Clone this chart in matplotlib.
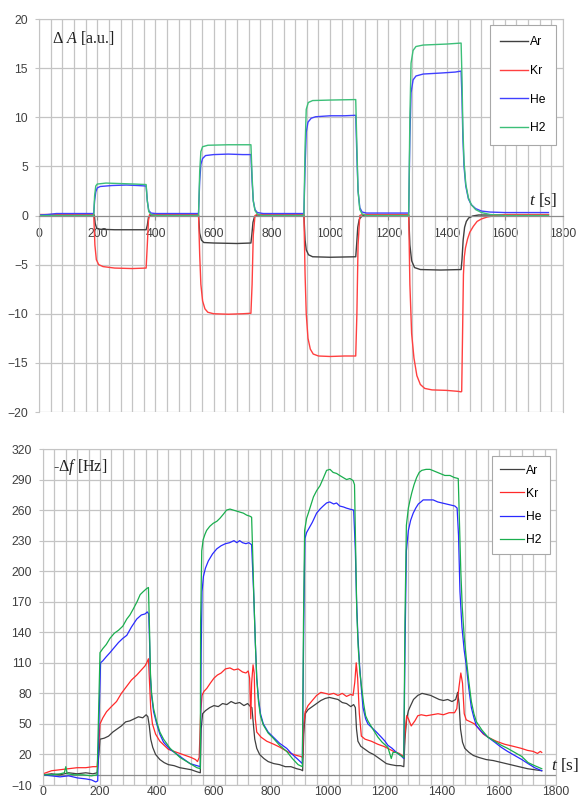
import matplotlib
matplotlib.use('Agg')
import matplotlib.pyplot as plt
from matplotlib.ticker import MultipleLocator

plt.rcParams['font.family'] = ['Liberation Sans', 'DejaVu Sans']
plt.rcParams['mathtext.fontset'] = 'custom'
plt.rcParams['mathtext.rm'] = 'Liberation Serif'
plt.rcParams['mathtext.it'] = 'Liberation Serif:italic'

# ---------------- top chart: delta A [a.u.] ----------------
ar_top_t = [0, 190, 193, 198, 210, 260, 320, 368, 372, 376, 382, 548, 552, 558, 566, 600, 680, 728, 731, 735, 740, 748,
            910, 914, 918, 926, 940, 1000, 1088, 1091, 1095, 1100, 1108, 1118, 1270, 1274, 1280, 1290, 1310, 1380, 1450,
            1453, 1457, 1462, 1468, 1476, 1490, 1510, 1750]
ar_top_v = [0.05, 0.05, -0.8, -1.3, -1.4, -1.45, -1.45, -1.45, -1.0, -0.2, 0.05, 0.05, -1.8, -2.5, -2.75, -2.8, -2.85, -2.8,
            -2.0, -0.7, -0.15, 0.05, 0.05, -2.5, -3.5, -4.0, -4.2, -4.25, -4.2, -3.0, -1.2, -0.4, -0.1, 0.05, 0.05, -3.0,
            -4.6, -5.3, -5.5, -5.55, -5.5, -4.5, -2.5, -1.2, -0.6, -0.25, -0.05, 0.05, 0.05]

kr_top_t = [0, 100, 188, 192, 197, 205, 220, 260, 320, 368, 372, 376, 380, 450, 548, 552, 556, 562, 570, 580, 600, 650,
            700, 728, 732, 736, 742, 750, 910, 914, 918, 924, 932, 942, 960, 1000, 1050, 1088, 1092, 1096, 1102, 1110,
            1270, 1274, 1280, 1288, 1298, 1310, 1325, 1350, 1400, 1440, 1450, 1452, 1455, 1458, 1461, 1465, 1472, 1480,
            1492, 1505, 1520, 1540, 1570, 1600, 1750]
kr_top_v = [0.1, 0.1, 0.1, -3.0, -4.5, -5.0, -5.2, -5.35, -5.4, -5.35, -3.0, -0.5, 0.1, 0.1, 0.1, -4.0, -7.0, -8.7, -9.5,
            -9.85, -10.0, -10.05, -10.0, -9.95, -7.0, -2.0, 0.0, 0.1, 0.1, -6.0, -10.0, -12.5, -13.6, -14.1, -14.3,
            -14.35, -14.3, -14.3, -10.0, -3.0, 0.0, 0.1, 0.1, -7.0, -12.0, -14.5, -16.3, -17.2, -17.6, -17.75, -17.8,
            -17.9, -17.95, -17.9, -12.0, -6.0, -4.2, -3.3, -2.4, -1.7, -1.1, -0.6, -0.35, -0.15, 0.0, 0.1, 0.1]

he_top_t = [0, 30, 60, 150, 188, 191, 195, 200, 210, 250, 300, 340, 368, 372, 377, 385, 400, 548, 552, 556, 562, 572, 600,
            650, 700, 728, 732, 736, 742, 750, 770, 910, 914, 918, 924, 935, 950, 1000, 1050, 1088, 1092, 1096, 1102,
            1110, 1125, 1270, 1274, 1278, 1285, 1295, 1320, 1380, 1430, 1450, 1453, 1456, 1460, 1466, 1475, 1485, 1500,
            1520, 1550, 1600, 1750]
he_top_v = [0.05, 0.1, 0.2, 0.2, 0.2, 1.5, 2.4, 2.8, 2.95, 3.05, 3.1, 3.05, 3.0, 1.5, 0.5, 0.25, 0.2, 0.2, 3.5, 5.2, 5.8,
            6.1, 6.2, 6.25, 6.2, 6.2, 3.5, 1.5, 0.6, 0.3, 0.2, 0.2, 5.0, 8.5, 9.5, 9.9, 10.05, 10.15, 10.15, 10.2, 6.0,
            2.5, 0.8, 0.35, 0.25, 0.25, 8.0, 12.5, 13.8, 14.2, 14.4, 14.5, 14.6, 14.7, 12.0, 8.0, 5.0, 3.0, 1.7, 1.1,
            0.7, 0.45, 0.35, 0.3, 0.3]

h2_top_t = [0, 188, 191, 195, 200, 230, 280, 330, 368, 372, 377, 385, 400, 548, 552, 556, 562, 580, 650, 728, 732, 736,
            742, 750, 765, 910, 914, 918, 925, 940, 1000, 1088, 1092, 1096, 1102, 1110, 1125, 1270, 1274, 1278, 1285,
            1295, 1320, 1400, 1450, 1453, 1456, 1460, 1466, 1475, 1485, 1500, 1520, 1550, 1600, 1750]
h2_top_v = [0.0, 0.0, 2.0, 3.0, 3.2, 3.3, 3.25, 3.2, 3.15, 1.5, 0.4, 0.1, 0.0, 0.0, 4.5, 6.5, 7.0, 7.15, 7.2, 7.2, 4.0,
            1.5, 0.5, 0.15, 0.0, 0.0, 7.0, 10.8, 11.5, 11.7, 11.75, 11.8, 7.0, 2.5, 0.6, 0.15, 0.0, 0.0, 10.0, 15.5,
            16.8, 17.2, 17.35, 17.45, 17.55, 14.0, 9.0, 5.5, 3.2, 1.8, 1.1, 0.6, 0.3, 0.1, 0.0, 0.0]

# ---------------- bottom chart: -delta f [Hz] ----------------
ar_bot_t = [0, 30, 60, 90, 120, 150, 175, 190, 196, 200, 215, 230, 245, 260, 275, 290, 305, 320, 335, 350, 362, 368,
            373, 378, 385, 395, 410, 425, 440, 460, 480, 500, 520, 540, 552,
            555, 560, 570, 585, 600, 615, 630, 645, 660, 675, 690, 705, 718, 728, 733, 738, 743, 750, 760, 775, 790,
            810, 830, 850, 870, 890, 905, 911,
            915, 920, 930, 945, 960, 975, 990, 1005, 1020, 1035, 1050, 1065, 1080, 1090, 1096, 1100, 1105, 1115, 1130,
            1145, 1160, 1175, 1190, 1205, 1220, 1240, 1255, 1266,
            1270, 1276, 1282, 1290, 1300, 1315, 1330, 1345, 1360, 1375, 1390, 1405, 1420, 1435, 1448, 1455, 1460, 1465,
            1472, 1480, 1495, 1510, 1530, 1555, 1580, 1610, 1640, 1670, 1700, 1725, 1750]
ar_bot_v = [0, 1, 0, 2, 1, 2, 1, 2, 20, 35, 36, 38, 42, 45, 48, 52, 53, 55, 57, 56, 59, 57,
            48, 35, 27, 20, 15, 12, 10, 9, 7, 6, 5, 3, 2,
            45, 60, 63, 66, 68, 67, 70, 69, 72, 70, 71, 68, 70, 67, 66, 50, 35, 26, 20, 16, 13,
            11, 10, 8, 8, 6, 5, 4,
            40, 60, 64, 67, 70, 73, 75, 76, 75, 74, 71, 70, 67, 69, 66, 45, 33, 28, 25,
            22, 20, 17, 14, 11, 10, 9, 9, 8,
            35, 55, 63, 68, 74, 78, 80, 79, 78, 76, 74, 73, 74, 72, 74, 81, 70, 45,
            32, 26, 22, 19, 17, 15, 14, 12, 10, 8, 6, 5, 4]

kr_bot_t = [0, 30, 60, 90, 120, 150, 175, 190, 196, 200, 210, 223, 240, 258, 275, 294, 310, 329, 345, 358, 364, 370,
            374, 378, 384, 395, 410, 425, 440, 460, 480, 500, 520, 535, 542, 548,
            553, 558, 565, 575, 587, 600, 612, 625, 640, 656, 670, 685, 700, 712, 720, 725, 729, 732, 737, 741, 745,
            750, 765, 785, 810, 832, 850, 870, 890, 905, 911,
            915, 920, 930, 945, 960, 975, 990, 1005, 1020, 1035, 1050, 1065, 1080, 1088, 1094, 1099, 1104, 1110, 1117,
            1130, 1152, 1175, 1195, 1210, 1230, 1250, 1260, 1266,
            1270, 1276, 1282, 1292, 1305, 1315, 1327, 1345, 1365, 1386, 1405, 1425, 1444, 1452, 1459, 1466, 1472, 1478,
            1485, 1500, 1514, 1530, 1545, 1561, 1590, 1620, 1650, 1678, 1700, 1720, 1735, 1745, 1750]
kr_bot_v = [1, 4, 5, 6, 7, 7, 8, 8, 30, 50, 56, 62, 67, 72, 80, 87, 93, 98, 103, 107, 110, 114,
            90, 65, 50, 40, 33, 29, 25, 23, 21, 19, 17, 15, 13, 17,
            60, 78, 82, 85, 90, 95, 98, 100, 104, 105, 103, 104, 101, 100, 102, 95, 55, 90, 108, 100, 55,
            42, 37, 33, 30, 27, 24, 21, 19, 18, 17,
            50, 62, 68, 73, 78, 81, 80, 79, 80, 78, 80, 77, 79, 78, 91, 110, 95, 60, 38,
            35, 33, 30, 28, 26, 23, 21, 19, 18,
            40, 58, 55, 48, 53, 58, 59, 58, 59, 60, 59, 61, 61, 65, 85, 100, 90, 60,
            54, 52, 50, 45, 40, 37, 33, 30, 28, 26, 24, 23, 21, 23, 22]

he_bot_t = [0, 30, 60, 90, 120, 150, 170, 185, 192, 197, 202, 210, 222, 235, 250, 265, 280, 294, 310, 329, 345, 358,
            366, 371, 374, 377, 381, 388, 399, 410, 423, 446, 481, 516, 540, 552,
            555, 558, 563, 570, 580, 595, 610, 625, 640, 655, 670, 680, 690, 700, 712, 722, 732, 736, 740, 745, 750,
            756, 763, 773, 790, 808, 830, 855, 875, 895, 910,
            915, 919, 925, 935, 945, 960, 972, 983, 995, 1006, 1020, 1030, 1041, 1055, 1064, 1076, 1090, 1096, 1100,
            1105, 1111, 1117, 1123, 1132, 1140, 1155, 1170, 1187, 1200, 1210, 1225, 1240, 1255, 1266,
            1270, 1275, 1282, 1290, 1299, 1308, 1317, 1326, 1334, 1350, 1369, 1385, 1400, 1416, 1430, 1445, 1453, 1458,
            1463, 1470, 1478, 1485, 1494, 1503, 1512, 1521, 1540, 1561, 1585, 1608, 1630, 1655, 1680, 1702, 1725, 1750]
he_bot_v = [0, -1, -2, -1, -3, -4, -5, -7, -6, 60, 110, 112, 116, 120, 125, 130, 134, 137, 145, 153, 157, 158,
            160, 158, 130, 95, 78, 62, 50, 40, 32, 25, 18, 11, 9, 8,
            120, 180, 195, 203, 210, 217, 222, 225, 227, 228, 230, 228, 230, 228, 227, 228, 226, 200, 173, 130, 95,
            75, 60, 50, 42, 37, 31, 26, 20, 15, 11,
            150, 232, 238, 243, 248, 257, 261, 264, 267, 268, 266, 267, 264, 263, 262, 261, 260, 220, 173,
            135, 107, 85, 66, 55, 50, 46, 42, 37, 33, 29, 26, 22, 19, 16,
            120, 220, 240, 250, 257, 262, 266, 268, 270, 270, 270, 268, 267, 266, 265, 264, 262, 235,
            180, 145, 122, 108, 85, 66, 56, 48, 42, 37, 32, 27, 23, 19, 15, 11, 7, 4]

h2_bot_t = [0, 30, 60, 75, 80, 85, 110, 140, 170, 190, 195, 200, 210, 222, 235, 250, 265, 280, 294, 305, 317, 330, 341,
            352, 364, 370, 374, 377, 381, 388, 399, 410, 423, 446, 481, 516, 540, 552,
            553, 557, 562, 568, 574, 585, 597, 610, 621, 633, 644, 656, 668, 680, 692, 703, 715, 726, 732, 736, 740,
            745, 750, 756, 763, 773, 790, 808, 830, 855, 875, 895, 910,
            914, 918, 925, 931, 940, 949, 960, 972, 983, 995, 1007, 1018, 1030, 1041, 1053, 1065, 1077, 1088, 1093,
            1097, 1101, 1106, 1112, 1117, 1125, 1132, 1140, 1155, 1175, 1190, 1210, 1222, 1228, 1240, 1255, 1266,
            1270, 1275, 1282, 1288, 1294, 1302, 1311, 1320, 1329, 1344, 1358, 1375, 1393, 1410, 1428, 1443, 1457,
            1461, 1466, 1471, 1478, 1485, 1494, 1503, 1512, 1521, 1540, 1561, 1585, 1608, 1630, 1655, 1680, 1702,
            1725, 1750]
h2_bot_v = [0, 0, 1, 2, 8, 1, 0, 0, -1, 0, 60, 120, 124, 128, 134, 139, 142, 146, 153, 157, 163, 170, 177,
            180, 183, 184, 140, 100, 80, 65, 52, 42, 35, 26, 17, 11, 7, 6,
            150, 220, 231, 236, 240, 244, 247, 249, 252, 256, 260, 261, 260, 259, 258, 257, 255, 254, 253, 215, 173,
            130, 95, 72, 58, 49, 41, 36, 29, 23, 16, 10, 8,
            150, 240, 252, 257, 265, 273, 279, 284, 291, 299, 300, 297, 296, 294, 292, 290, 291, 289, 285,
            220, 160, 125, 100, 88, 70, 58, 53, 46, 37, 32, 27, 16, 22, 22, 19, 17,
            150, 245, 262, 270, 277, 285, 292, 297, 299, 300, 300, 298, 296, 294, 294, 292, 291,
            250, 200, 165, 135, 115, 92, 72, 60, 52, 44, 37, 33, 29, 26, 22, 18, 12,
            9, 6]

names = ['Ar', 'Kr', 'He', 'H2']
top_colors = ['#404040', '#ff4040', '#4040ff', '#3cbf78']
bot_colors = ['#404040', '#ff2a2a', '#2a2aff', '#1aae4e']

grid_c = '#c4c4c4'
axis_c = '#8c8c8c'
tick_c = '#404040'

fig = plt.figure(figsize=(5.78, 7.97), dpi=100)

# ---- top axes ----
ax1 = fig.add_axes([39/578, 1-412/797, 524/578, 393/797])
top_series = [(ar_top_t, ar_top_v), (kr_top_t, kr_top_v), (he_top_t, he_top_v), (h2_top_t, h2_top_v)]
for (t, v), name, c in zip(top_series, names, top_colors):
    ax1.plot(t, v, color=c, lw=1.0, label=name)
ax1.set_xlim(0, 1800)
ax1.set_ylim(-20, 20)
ax1.set_xticks(range(0, 1801, 200))
ax1.set_yticks(range(-20, 21, 5))
ax1.xaxis.set_minor_locator(MultipleLocator(40))
ax1.grid(True, which='both', axis='x', color=grid_c, lw=0.9)
ax1.grid(True, which='major', axis='y', color=grid_c, lw=0.9)
ax1.set_axisbelow(True)
ax1.spines['bottom'].set_position(('data', 0))
ax1.spines['bottom'].set_color(axis_c)
for s in ['left', 'right', 'top']:
    ax1.spines[s].set_color(grid_c)
ax1.tick_params(which='major', labelsize=8.7, colors=tick_c, length=3, width=0.8)
ax1.tick_params(axis='x', which='major', pad=6, color=axis_c)
ax1.tick_params(axis='y', which='major', pad=5, color=grid_c)
ax1.tick_params(which='minor', length=0)
ax1.text(0.025, 0.952, 'Δ $A$ [a.u.]', transform=ax1.transAxes, family='Liberation Serif',
         fontsize=11.5, va='center', ha='left', color='#202020')
ax1.text(0.9885, 0.539, '$t$ [s]', transform=ax1.transAxes, family='Liberation Serif',
         fontsize=12.5, va='center', ha='right', color='#202020')
leg1 = ax1.legend(loc='upper right', bbox_to_anchor=(0.999, 0.999), fontsize=8.7, labelspacing=1.38,
                  handlelength=2.3, handletextpad=0.15, borderpad=0.9, fancybox=False, framealpha=1,
                  edgecolor='#a8a8a8')
leg1.get_frame().set_linewidth(0.8)

# ---- bottom axes ----
ax2 = fig.add_axes([43/578, 1-785/797, 513/578, 336/797])
bot_series = [(ar_bot_t, ar_bot_v), (kr_bot_t, kr_bot_v), (he_bot_t, he_bot_v), (h2_bot_t, h2_bot_v)]
for (t, v), name, c in zip(bot_series, names, bot_colors):
    ax2.plot(t, v, color=c, lw=0.9, label=name)
ax2.set_xlim(0, 1800)
ax2.set_ylim(-10, 320)
ax2.set_xticks(range(0, 1801, 200))
ax2.set_yticks(range(-10, 321, 30))
ax2.xaxis.set_minor_locator(MultipleLocator(40))
ax2.grid(True, which='both', axis='x', color=grid_c, lw=0.9)
ax2.grid(True, which='major', axis='y', color=grid_c, lw=0.9)
ax2.set_axisbelow(True)
ax2.axhline(0, color=axis_c, lw=0.9, zorder=1)
for s in ['left', 'right', 'top', 'bottom']:
    ax2.spines[s].set_color(grid_c)
ax2.tick_params(which='major', labelsize=8.7, colors=tick_c, length=3, width=0.8, color=grid_c)
ax2.tick_params(axis='x', which='major', pad=0.5, length=0)
ax2.tick_params(axis='y', which='major', pad=5)
ax2.tick_params(which='minor', length=0)
ax2.text(0.0195, 0.947, '-Δ$f$ [Hz]', transform=ax2.transAxes, family='Liberation Serif',
         fontsize=11.5, va='center', ha='left', color='#202020')
ax2.text(0.99, 0.06, '$t$ [s]', transform=ax2.transAxes, family='Liberation Serif',
         fontsize=12.5, va='center', ha='left', color='#202020')
leg2 = ax2.legend(loc='upper right', bbox_to_anchor=(1.0, 0.997), fontsize=8.7, labelspacing=0.92,
                  handlelength=2.0, handletextpad=0.15, borderpad=0.7, fancybox=False, framealpha=1,
                  edgecolor='#a8a8a8')
leg2.get_frame().set_linewidth(0.8)

fig.savefig('out.png', dpi=100)
